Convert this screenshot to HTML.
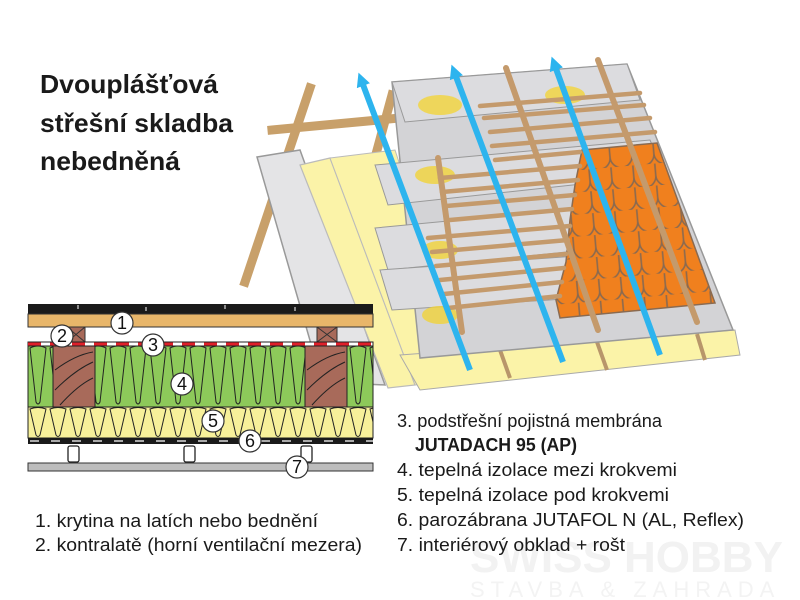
<!DOCTYPE html>
<html><head><meta charset="utf-8"><style>
html,body{margin:0;padding:0;background:#fff;}
svg{display:block;}
text{font-family:"Liberation Sans",Arial,sans-serif;}
</style></head><body>
<svg width="800" height="600" viewBox="0 0 800 600" xmlns="http://www.w3.org/2000/svg">
<defs>
<pattern id="tiles" x="0" y="0" width="22" height="22" patternUnits="userSpaceOnUse" patternTransform="rotate(-5)">
<rect width="22" height="22" fill="#f0801e"/>
<path d="M0 0 v12 a11 11 0 0 0 22 0 v-12" fill="none" stroke="#8a6a50" stroke-width="1.6"/>
</pattern>
<pattern id="green" x="28" y="346" width="20" height="61" patternUnits="userSpaceOnUse">
<rect width="20" height="61" fill="#8dc95a"/>
<path d="M2 2 Q10 -2 18 2 L12 56 Q10 60 8 56 Z" fill="none" stroke="#222" stroke-width="1"/>
</pattern>
<pattern id="yellow" x="28" y="407" width="20" height="31" patternUnits="userSpaceOnUse">
<rect width="20" height="31" fill="#f7f09a"/>
<path d="M2 2 Q10 -1 18 2 L12 28 Q10 31 8 28 Z" fill="none" stroke="#222" stroke-width="1"/>
</pattern>
<marker id="ah" markerUnits="userSpaceOnUse" markerWidth="14" markerHeight="14" refX="4" refY="7" orient="auto"><path d="M0 0 L14 7 L0 14Z" fill="#2db4ee"/></marker>
</defs>

<text x="470" y="572" font-size="44" font-weight="bold" fill="#f2f2f2">SWISS HOBBY</text>
<text x="470" y="597" font-size="22" fill="#f3f3f3" letter-spacing="6">STAVBA &amp; ZAHRADA</text>

<g stroke="#c8a06a" stroke-width="9" stroke-linecap="square">
<line x1="310" y1="88" x2="245" y2="282"/>
<line x1="392" y1="95" x2="350" y2="250"/>
<line x1="272" y1="130" x2="400" y2="118"/>
</g>
<polygon points="257,157 300,150 385,385 322,382" fill="#e4e4e6" stroke="#999" stroke-width="1.5"/>
<polygon points="300,165 330,158 415,385 388,388" fill="#fbf3a8" stroke="#bbb" stroke-width="1.2"/>
<polygon points="330,158 395,150 470,380 415,385" fill="#fbf3a8" stroke="#bbb" stroke-width="1"/>
<polygon points="400,355 735,330 740,355 420,390" fill="#fbf3a8" stroke="#aaa" stroke-width="1"/>
<g stroke="#b8966a" stroke-width="4"><line x1="500" y1="350" x2="510" y2="378"/><line x1="597" y1="342" x2="607" y2="370"/><line x1="697" y1="334" x2="705" y2="360"/></g>
<polygon points="392,82 627,64 733,330 420,358" fill="#d3d3d6" stroke="#999" stroke-width="1.5"/>
<g fill="#dcdcdf" stroke="#999" stroke-width="1">
<polygon points="392,82 627,64 640,100 405,122"/>
<polygon points="375,165 650,140 665,175 388,205"/>
<polygon points="375,228 670,200 685,240 388,270"/>
<polygon points="380,270 690,248 705,290 392,310"/>
</g>
<g fill="#f2d43a" opacity="0.8">
<ellipse cx="440" cy="105" rx="22" ry="10"/><ellipse cx="565" cy="95" rx="20" ry="9"/>
<ellipse cx="435" cy="175" rx="20" ry="9"/><ellipse cx="440" cy="250" rx="18" ry="9"/><ellipse cx="440" cy="315" rx="18" ry="9"/>
</g>
<polygon points="582,150 657,143 715,303 560,318 556,300 566,262 570,220 575,185" fill="url(#tiles)" stroke="#8a6a50" stroke-width="1.5"/>
<g stroke="#c49a6c" stroke-width="4.5" stroke-linecap="round">
<line x1="480" y1="106" x2="640" y2="93"/>
<line x1="484" y1="118" x2="644" y2="105"/>
<line x1="490" y1="132" x2="650" y2="118"/>
<line x1="492" y1="146" x2="655" y2="132"/>
<line x1="495" y1="160" x2="580" y2="152"/>
<line x1="440" y1="178" x2="580" y2="166"/>
<line x1="442" y1="192" x2="578" y2="180"/>
<line x1="446" y1="206" x2="575" y2="195"/>
<line x1="450" y1="220" x2="572" y2="209"/>
<line x1="428" y1="238" x2="570" y2="226"/>
<line x1="432" y1="252" x2="568" y2="240"/>
<line x1="436" y1="266" x2="566" y2="254"/>
<line x1="440" y1="280" x2="564" y2="268"/>
<line x1="444" y1="294" x2="562" y2="282"/>
<line x1="448" y1="308" x2="560" y2="296"/>
</g>
<g stroke="#c49a6c" stroke-width="6" stroke-linecap="round">
<line x1="506" y1="68" x2="598" y2="330"/>
<line x1="598" y1="60" x2="697" y2="322"/>
<line x1="438" y1="158" x2="462" y2="332"/>
</g>
<g stroke="#2db4ee" stroke-width="6" fill="none">
<line x1="470" y1="370" x2="362" y2="82" marker-end="url(#ah)"/>
<line x1="563" y1="362" x2="455" y2="74" marker-end="url(#ah)"/>
<line x1="660" y1="355" x2="555" y2="66" marker-end="url(#ah)"/>
</g>

<g font-size="26" font-weight="bold" fill="#1a1a1a">
<text x="40" y="93" textLength="178" lengthAdjust="spacingAndGlyphs">Dvouplášťová</text>
<text x="40" y="132" textLength="193" lengthAdjust="spacingAndGlyphs">střešní skladba</text>
<text x="40" y="170" textLength="140" lengthAdjust="spacingAndGlyphs">nebedněná</text>
</g>

<rect x="28" y="304" width="345" height="10" fill="#1a1a1a"/>
<g stroke="#fff" stroke-width="1"><line x1="78" y1="305" x2="78" y2="309"/><line x1="146" y1="307" x2="146" y2="311"/><line x1="225" y1="305" x2="225" y2="309"/><line x1="295" y1="307" x2="295" y2="311"/></g>
<rect x="28" y="314" width="345" height="13" fill="#e8b66a" stroke="#333" stroke-width="1"/>
<g fill="#a86a5a" stroke="#333" stroke-width="1">
<rect x="67" y="327" width="18" height="15"/><rect x="317" y="327" width="20" height="15"/>
</g>
<g stroke="#333" stroke-width="1"><path d="M67 327 L85 342 M85 327 L67 342 M317 327 L337 342 M337 327 L317 342"/></g>
<rect x="28" y="342" width="345" height="4" fill="#fff" stroke="#222" stroke-width="1"/>
<line x1="28" y1="344" x2="373" y2="344" stroke="#e0202a" stroke-width="3" stroke-dasharray="13 9"/>
<rect x="28" y="346" width="345" height="61" fill="url(#green)" stroke="#222" stroke-width="1"/>
<g fill="#a86a5a" stroke="#222" stroke-width="1">
<rect x="53" y="346" width="42" height="61"/><rect x="305" y="346" width="42" height="61"/>
</g>
<g stroke="#222" fill="none" stroke-width="1">
<path d="M55 370 Q75 355 93 352 M55 390 Q75 370 93 362 M60 405 Q78 385 93 378 M307 370 Q327 355 345 352 M307 390 Q327 370 345 362 M312 405 Q330 385 345 378"/>
</g>
<rect x="28" y="407" width="345" height="31" fill="url(#yellow)" stroke="#222" stroke-width="1"/>
<rect x="28" y="438" width="345" height="6" fill="#1a1a1a"/>
<line x1="30" y1="441" x2="373" y2="441" stroke="#fff" stroke-width="1.2" stroke-dasharray="9 12"/>
<g fill="#fff" stroke="#222" stroke-width="1.3">
<rect x="68" y="446" width="11" height="16" rx="2"/><rect x="184" y="446" width="11" height="16" rx="2"/><rect x="301" y="446" width="11" height="16" rx="2"/>
</g>
<rect x="28" y="463" width="345" height="8" fill="#bdbdbd" stroke="#333" stroke-width="1"/>
<g fill="#fff" stroke="#333" stroke-width="1.2">
<circle cx="122" cy="323" r="11"/><circle cx="62" cy="336" r="11"/><circle cx="153" cy="345" r="11"/><circle cx="182" cy="384" r="11"/><circle cx="213" cy="421" r="11"/><circle cx="250" cy="441" r="11"/><circle cx="297" cy="467" r="11"/>
</g>
<g font-size="18" fill="#111" text-anchor="middle">
<text x="122" y="329">1</text><text x="62" y="342">2</text><text x="153" y="351">3</text><text x="182" y="390">4</text><text x="213" y="427">5</text><text x="250" y="447">6</text><text x="297" y="473">7</text>
</g>

<g font-size="18" fill="#1a1a1a">
<text x="397" y="427" textLength="265" lengthAdjust="spacingAndGlyphs">3. podstřešní pojistná membrána</text>
<text x="415" y="451" font-weight="bold" textLength="162" lengthAdjust="spacingAndGlyphs">JUTADACH 95 (AP)</text>
<text x="397" y="476" textLength="280" lengthAdjust="spacingAndGlyphs">4. tepelná izolace mezi krokvemi</text>
<text x="397" y="501" textLength="272" lengthAdjust="spacingAndGlyphs">5. tepelná izolace pod krokvemi</text>
<text x="397" y="526" textLength="347" lengthAdjust="spacingAndGlyphs">6. parozábrana JUTAFOL N (AL, Reflex)</text>
<text x="397" y="551" textLength="228" lengthAdjust="spacingAndGlyphs">7. interiérový obklad + rošt</text>
<text x="35" y="527" textLength="283" lengthAdjust="spacingAndGlyphs">1. krytina na latích nebo bednění</text>
<text x="35" y="551" textLength="327" lengthAdjust="spacingAndGlyphs">2. kontralatě (horní ventilační mezera)</text>
</g>
</svg>
</body></html>
